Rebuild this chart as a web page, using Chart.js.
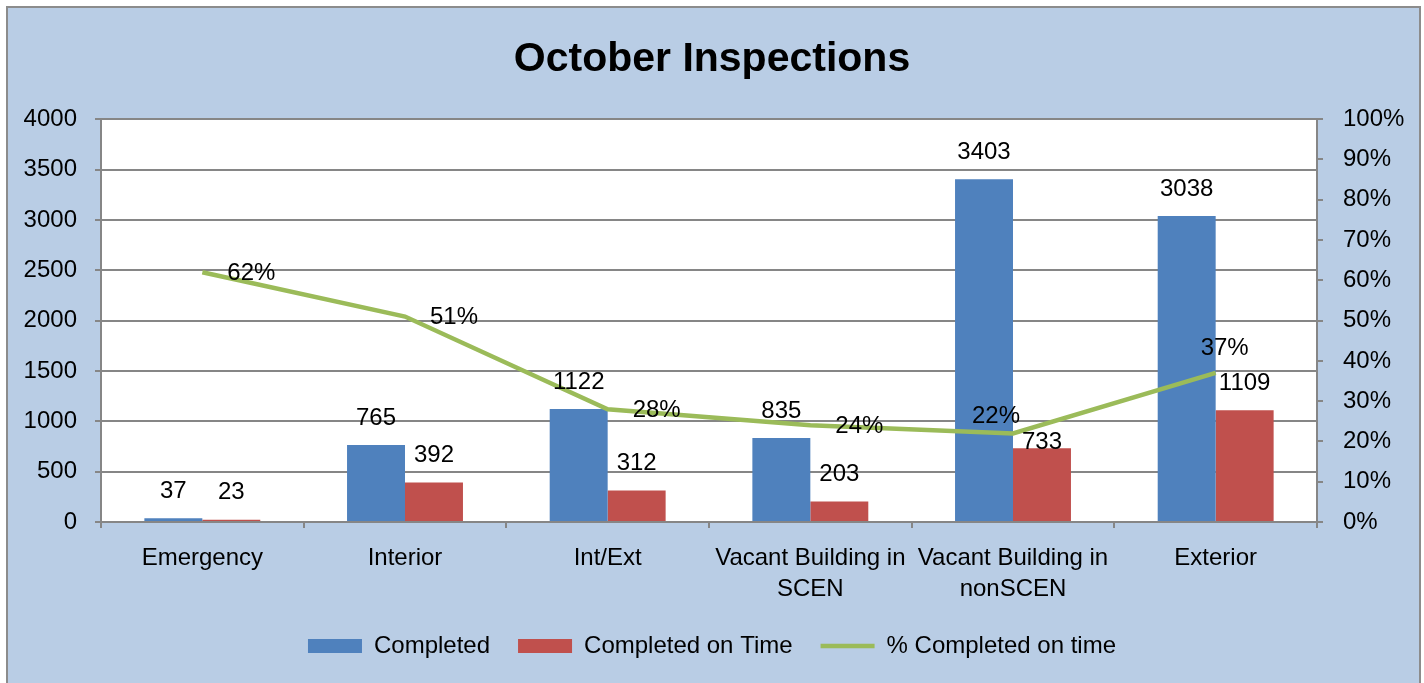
<!DOCTYPE html>
<html>
<head>
<meta charset="utf-8">
<title>October Inspections</title>
<script src="https://cdn.jsdelivr.net/npm/chart.js@4.4.1/dist/chart.umd.min.js"></script>
<style>
html, body { margin: 0; padding: 0; background: #ffffff; overflow: hidden; }
#frame { position: absolute; left: 6px; top: 6px; width: 1411px; height: 700px; background: #B9CDE5; border: 2px solid #8C8C8C; }
#myChart { position: absolute; left: 0; top: 0; }
</style>
</head>
<body>
<div id="frame"></div>
<canvas id="myChart" width="1424" height="683"></canvas>
<script>
// datos
var categories = ['Emergency', 'Interior', 'Int/Ext', ['Vacant Building in', 'SCEN'], ['Vacant Building in', 'nonSCEN'], 'Exterior'];
var completed = [37, 765, 1122, 835, 3403, 3038];
var completedOnTime = [23, 392, 312, 203, 733, 1109];
var pctOnTime = [62, 51, 28, 24, 22, 37];

var countMax = 4000, countStep = 500;
var pctMax = 100, pctStep = 10;

var FONT = '"Liberation Sans", Arial, sans-serif';
var GRID = '#868686';

// etiquetas de la linea: [dx, dy, align] (por defecto a la derecha del punto)
var lineLabelPos = { 4: [-17, -17, 'center'], 5: [9, -25, 'center'] };
// etiquetas de barras: distancia sobre la barra
var barLabelLift = { '1-4': 6 };

var plotBackground = {
    id: 'plotBackground',
    beforeDraw: function(chart) {
        var a = chart.chartArea;
        chart.ctx.save();
        chart.ctx.fillStyle = '#ffffff';
        chart.ctx.fillRect(a.left, a.top, a.right - a.left, a.bottom - a.top);
        chart.ctx.restore();
    }
};

var valueLabels = {
    id: 'valueLabels',
    afterDatasetsDraw: function(chart) {
        var ctx = chart.ctx;
        ctx.save();
        ctx.font = '24px ' + FONT;
        ctx.fillStyle = '#000000';
        ctx.textBaseline = 'middle';
        chart.data.datasets.forEach(function(ds, di) {
            var meta = chart.getDatasetMeta(di);
            meta.data.forEach(function(el, i) {
                var v = ds.data[i];
                if (ds.type === 'line') {
                    var p = lineLabelPos[i] || [25, 1, 'left'];
                    ctx.textAlign = p[2];
                    ctx.fillText(v + '%', el.x + p[0], el.y + p[1]);
                } else {
                    var lift = barLabelLift[di + '-' + i] || 27;
                    ctx.textAlign = 'center';
                    ctx.fillText(v, el.x, el.y - lift);
                }
            });
        });
        ctx.restore();
    }
};

var ctx = document.getElementById('myChart').getContext('2d');
var chart = new Chart(ctx, {
    type: 'bar',
    data: {
        labels: categories,
        datasets: [{
            label: 'Completed',
            data: completed,
            backgroundColor: '#4F81BD',
            borderWidth: 0,
            pointStyle: 'rect',
            yAxisID: 'y',
            order: 1,
            categoryPercentage: 0.572,
            barPercentage: 1
        }, {
            label: 'Completed on Time',
            data: completedOnTime,
            backgroundColor: '#C0504D',
            borderWidth: 0,
            pointStyle: 'rect',
            yAxisID: 'y',
            order: 1,
            categoryPercentage: 0.572,
            barPercentage: 1
        }, {
            type: 'line',
            label: '% Completed on time',
            data: pctOnTime,
            borderColor: '#9BBB59',
            backgroundColor: '#9BBB59',
            borderWidth: 4.5,
            pointRadius: 0,
            pointStyle: 'line',
            tension: 0,
            yAxisID: 'y1',
            order: 0
        }]
    },
    options: {
        responsive: false,
        animation: false,
        layout: { padding: { left: 0, right: 0, top: 0, bottom: 15 } },
        plugins: {
            title: {
                display: true,
                text: 'October Inspections',
                color: '#000000',
                font: { family: FONT, size: 41, weight: 'bold' },
                padding: { top: 35, bottom: 35 }
            },
            legend: {
                position: 'bottom',
                labels: {
                    usePointStyle: true,
                    pointStyleWidth: 54,
                    boxHeight: 14,
                    padding: 28,
                    color: '#000000',
                    font: { family: FONT, size: 24 },
                    sort: function(a, b) { return a.datasetIndex - b.datasetIndex; }
                }
            },
            tooltip: { enabled: false }
        },
        scales: {
            x: {
                offset: true,
                grid: { display: true, drawOnChartArea: false, color: GRID, lineWidth: 2, tickLength: 6 },
                border: { color: GRID, width: 2 },
                ticks: {
                    color: '#000000',
                    font: { family: FONT, size: 24, lineHeight: 1.3 },
                    padding: 15,
                    maxRotation: 0,
                    autoSkip: false
                },
                afterFit: function(scale) { scale.height = 84; }
            },
            y: {
                position: 'left',
                min: 0,
                max: countMax,
                ticks: {
                    stepSize: countStep,
                    color: '#000000',
                    font: { family: FONT, size: 24 },
                    padding: 18,
                    callback: function(v) { return String(v); }
                },
                grid: { color: GRID, lineWidth: 2, tickLength: 6 },
                border: { color: GRID, width: 2 },
                afterFit: function(scale) { scale.width = 101; }
            },
            y1: {
                position: 'right',
                min: 0,
                max: pctMax,
                ticks: {
                    stepSize: pctStep,
                    color: '#000000',
                    font: { family: FONT, size: 24 },
                    padding: 20,
                    callback: function(v) { return v + '%'; }
                },
                grid: { drawOnChartArea: false, color: GRID, lineWidth: 2, tickLength: 6 },
                border: { color: GRID, width: 2 },
                afterFit: function(scale) { scale.width = 107; }
            }
        }
    },
    plugins: [plotBackground, valueLabels]
});
</script>
</body>
</html>
